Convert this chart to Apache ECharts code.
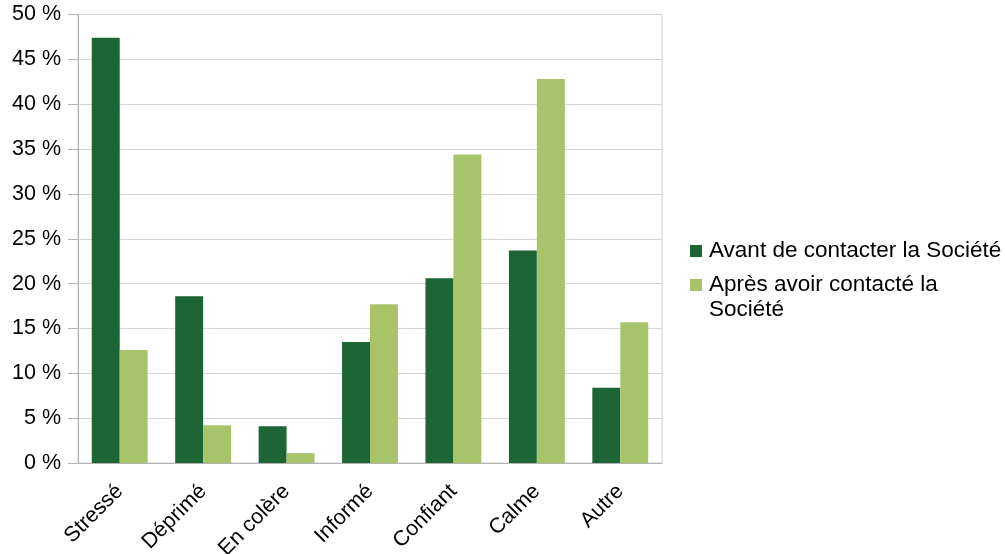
<!DOCTYPE html>
<html>
<head>
<meta charset="utf-8">
<script src="https://cdn.jsdelivr.net/npm/echarts@6/dist/echarts.min.js"></script>
<style>
html,body{margin:0;padding:0;background:#fff;}
#c{width:1005px;height:554px;}
</style>
</head>
<body>
<div id="c"></div>
<script>
const categories = ['Stressé', 'Déprimé', 'En colère', 'Informé', 'Confiant', 'Calme', 'Autre'];
const seriesNames = ['Avant de contacter la Société', 'Après avoir contacté la Société'];
const avant = [47.4, 18.6, 4.1, 13.5, 20.6, 23.7, 8.4];
const apres = [12.6, 4.2, 1.1, 17.7, 34.4, 42.8, 15.7];

const FONT = '"Liberation Sans", Arial, sans-serif';
const FS = 21.5;
const LFS = 22.5;
const chart = echarts.init(document.getElementById('c'));
chart.setOption({
  animation: false,
  textStyle: { fontFamily: FONT },
  grid: { left: 78, right: 343, top: 14.5, bottom: 91, show: true, borderColor: '#d0d0d0', borderWidth: 1, containLabel: false, outerBoundsMode: 'none' },
  legend: [
    {
      data: [seriesNames[0]], orient: 'vertical', left: 690, top: 238.5, padding: 0,
      itemWidth: 12, itemHeight: 12, icon: 'rect', itemGap: 0,
      textStyle: { fontSize: LFS, color: '#000', fontFamily: FONT, lineHeight: 25, padding: [0, 0, 0, 2] }
    },
    {
      data: [seriesNames[1]], orient: 'vertical', left: 690, top: 247.5, padding: 0,
      itemWidth: 12, itemHeight: 12, icon: 'rect', itemGap: 0,
      formatter: function () { return '\nAprès avoir contacté la\nSociété'; },
      textStyle: { fontSize: LFS, color: '#000', fontFamily: FONT, lineHeight: 25, padding: [0, 0, 0, 2] }
    }
  ],
  xAxis: {
    type: 'category', data: categories,
    axisLine: { lineStyle: { color: '#b3b3b3', width: 1 } },
    axisTick: { length: 9, lineStyle: { color: '#b3b3b3' } },
    axisLabel: { rotate: 45, fontSize: FS, color: '#000', margin: 25, interval: 0, fontFamily: FONT }
  },
  yAxis: {
    type: 'value', min: 0, max: 50, interval: 5,
    axisLine: { show: true, lineStyle: { color: '#b3b3b3', width: 1 } },
    axisTick: { show: true, length: 10, lineStyle: { color: '#b3b3b3' } },
    splitLine: { lineStyle: { color: '#d6d6d6', width: 1 } },
    axisLabel: { formatter: '{value} %', fontSize: FS, color: '#000', margin: 17, fontFamily: FONT }
  },
  series: [
    { name: seriesNames[0], type: 'bar', data: avant, barGap: '0%', barCategoryGap: '33%', itemStyle: { color: '#1d6535' } },
    { name: seriesNames[1], type: 'bar', data: apres, barGap: '0%', barCategoryGap: '33%', itemStyle: { color: '#a8c46b' } }
  ]
});
</script>
</body>
</html>
